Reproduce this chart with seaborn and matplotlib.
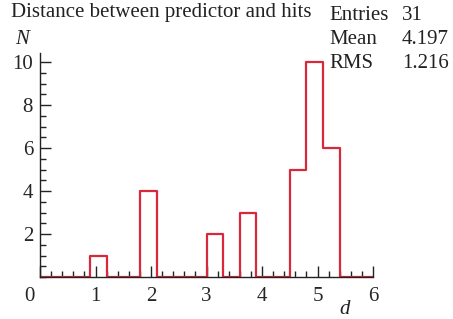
import numpy as np
import pandas as pd
import seaborn as sns
import matplotlib.pyplot as plt
import matplotlib.transforms as mtransforms
from matplotlib.ticker import MultipleLocator

# histogram contents (20 bins of 0.3 from 0 to 6)
bin_centers = np.arange(0.15, 6, 0.3)
counts = [0, 0, 0, 1, 0, 0, 4, 0, 0, 0, 2, 0, 3, 0, 0, 5, 10, 6, 0, 0]

title = 'Distance between predictor and hits'
stat_names = ['Entries', 'Mean', 'RMS']
stat_values = ['31', '4.197', '1.216']

df = pd.DataFrame({'d': bin_centers, 'N': counts})

sns.set_style('ticks')
plt.rcParams['font.family'] = ['Liberation Serif', 'DejaVu Serif']

fig = plt.figure(figsize=(4.53, 3.19), dpi=100)
ax = fig.add_axes([40 / 453, 42 / 319, 333 / 453, 224 / 319])

sns.histplot(data=df, x='d', weights='N', binwidth=0.3, binrange=(0, 6), element='step',
             fill=False, color='#d7283c', linewidth=1.6, ax=ax)

ax.set_xlim(0, 6)
ax.set_ylim(0, 10.42)
ax.set_xticks(range(7))
ax.set_yticks([2, 4, 6, 8, 10])
ax.xaxis.set_minor_locator(MultipleLocator(0.2))
ax.yaxis.set_minor_locator(MultipleLocator(0.5))
ax.tick_params(which='major', direction='in', length=8, width=1, labelsize=15, color='#222222')
ax.tick_params(which='minor', direction='in', length=4, width=1, color='#222222')
ax.tick_params(axis='x', pad=7)
ax.tick_params(axis='y', pad=5)
for s in ['top', 'right']:
    ax.spines[s].set_visible(False)
for s in ['left', 'bottom']:
    ax.spines[s].set_linewidth(1)
    ax.spines[s].set_color('#222222')

# ROOT puts the "0" a bit left of the axis corner
lbl0 = ax.get_xticklabels()[0]
lbl0.set_transform(lbl0.get_transform() + mtransforms.ScaledTranslation(-11 / 100, 0, fig.dpi_scale_trans))

ax.set_xlabel('')
ax.set_ylabel('')
fig.text(22 / 453, 1 - 40 / 319, 'N', style='italic', fontsize=15, ha='center', va='center', color='#222222')
fig.text(345 / 453, 1 - 309 / 319, 'd', style='italic', fontsize=15, ha='center', va='center', color='#222222')

fig.text(11 / 453, 1 - 13 / 319, title, fontsize=15, ha='left', va='center', color='#222222')
stat_y = [15, 39, 63]
for name, val, y in zip(stat_names, stat_values, stat_y):
    fig.text(329 / 453, 1 - y / 319, name, fontsize=15, ha='left', va='center', color='#222222')
    fig.text(402 / 453, 1 - y / 319, val, fontsize=15, ha='left', va='center', color='#222222')

fig.savefig('out.png', dpi=100)
